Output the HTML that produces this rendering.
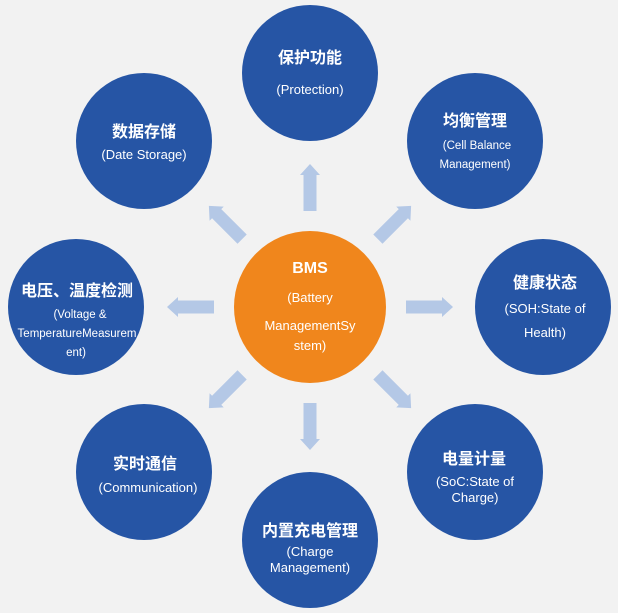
<!DOCTYPE html>
<html><head><meta charset="utf-8"><style>
html,body{margin:0;padding:0;background:#f2f2f2;}
svg{display:block;}
text{font-family:"Liberation Sans","Noto Sans CJK SC",sans-serif;fill:#fff;text-anchor:middle;}
.t{font-size:16px;font-weight:bold;}
.s{font-size:13px;}
.xs{font-size:11.5px;}
</style></head><body>
<svg width="618" height="613" viewBox="0 0 618 613">
<rect width="618" height="613" fill="#f2f2f2"/>
<defs>
<polygon id="ar" points="0,-6.5 36,-6.5 36,-10 47,0 36,10 36,6.5 0,6.5" fill="#b4c8e6"/>
</defs>
<g transform="translate(310,307)">
<use href="#ar" transform="rotate(-90) translate(96,0)"/>
<use href="#ar" transform="rotate(90) translate(96,0)"/>
<use href="#ar" transform="rotate(0) translate(96,0)"/>
<use href="#ar" transform="rotate(180) translate(96,0)"/>
<use href="#ar" transform="rotate(-45) translate(96,0)"/>
<use href="#ar" transform="rotate(-135) translate(96,0)"/>
<use href="#ar" transform="rotate(45) translate(96,0)"/>
<use href="#ar" transform="rotate(135) translate(96,0)"/>
</g>
<g fill="#2655a5">
<circle cx="310" cy="73" r="68"/>
<circle cx="475" cy="141" r="68"/>
<circle cx="543" cy="307" r="68"/>
<circle cx="475" cy="472" r="68"/>
<circle cx="310" cy="540" r="68"/>
<circle cx="144" cy="472" r="68"/>
<circle cx="76" cy="307" r="68"/>
<circle cx="144" cy="141" r="68"/>
</g>
<circle cx="310" cy="307" r="76" fill="#f0861c"/>

<text class="t" x="310" y="273">BMS</text>
<text class="s" x="310" y="302">(Battery</text>
<text class="s" x="310" y="330">ManagementSy</text>
<text class="s" x="310" y="350">stem)</text>

<text class="t" x="310" y="63">保护功能</text>
<text class="s" x="310" y="94">(Protection)</text>

<text class="t" x="475" y="126">均衡管理</text>
<text class="xs" x="477" y="149">(Cell Balance</text>
<text class="xs" x="475" y="168">Management)</text>

<text class="t" x="545" y="288">健康状态</text>
<text class="s" x="545" y="313">(SOH:State of</text>
<text class="s" x="545" y="337">Health)</text>

<text class="t" x="474" y="464">电量计量</text>
<text class="s" x="475" y="486">(SoC:State of</text>
<text class="s" x="475" y="502">Charge)</text>

<text class="t" x="310" y="536">内置充电管理</text>
<text class="s" x="310" y="556">(Charge</text>
<text class="s" x="310" y="572">Management)</text>

<text class="t" x="145" y="469">实时通信</text>
<text class="s" x="148" y="492">(Communication)</text>

<text class="t" x="77" y="296">电压、温度检测</text>
<text class="xs" x="80" y="318">(Voltage &amp;</text>
<text class="xs" x="77" y="337">TemperatureMeasurem</text>
<text class="xs" x="76" y="356">ent)</text>

<text class="t" x="144" y="137">数据存储</text>
<text class="s" x="144" y="159">(Date Storage)</text>
</svg>
</body></html>
